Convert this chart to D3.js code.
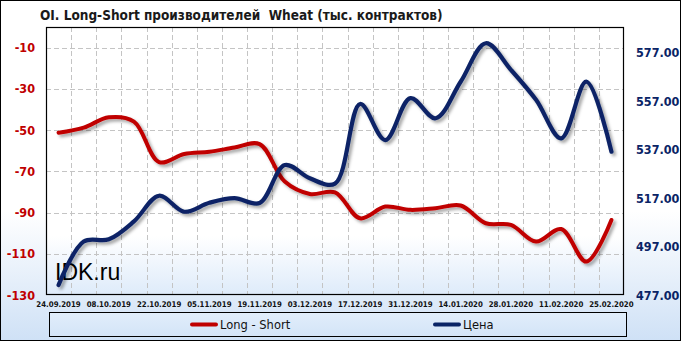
<!DOCTYPE html>
<html><head><meta charset="utf-8">
<script src="https://cdn.jsdelivr.net/npm/d3@7"></script>
<style>
html,body{margin:0;padding:0;background:#fff;}
svg{display:block;}
</style></head>
<body>
<script>
const dates = ["24.09.2019","01.10.2019","08.10.2019","15.10.2019","22.10.2019","29.10.2019","05.11.2019","12.11.2019","19.11.2019","26.11.2019","03.12.2019","10.12.2019","17.12.2019","24.12.2019","31.12.2019","07.01.2020","14.01.2020","21.01.2020","28.01.2020","04.02.2020","11.02.2020","18.02.2020","25.02.2020"];
const longShort = [-51.3,-48.8,-43.8,-45.9,-65.5,-61.6,-60.5,-58.5,-56.8,-75,-81,-80.2,-92.8,-87.1,-88.7,-87.9,-86.6,-95.2,-96,-104.1,-98,-113.8,-93.6];
const price = [481.1,499.1,500.0,507.4,518.0,511.4,515.1,517.0,515.0,530.7,525.2,523.0,555.9,541.0,558.3,550.0,565.1,581.0,570.0,557.6,541.7,565.1,536.2];
const leftTicks = [-130,-110,-90,-70,-50,-30,-10];
const rightTicks = [477,497,517,537,557,577];
const title = "OI. Long-Short производителей\u00a0 Wheat (тыс. контрактов)";
const seriesNames = ["Long - Short","Цена"];

const W = 681, H = 341;
const P = {l:46, r:624, t:27, b:295};
const font = "'DejaVu Sans Condensed','DejaVu Sans',sans-serif";

const svg = d3.select("body").append("svg").attr("width",W).attr("height",H);
const defs = svg.append("defs");
const bg = defs.append("linearGradient").attr("id","bg").attr("x1",0).attr("y1",0).attr("x2",0).attr("y2",1);
bg.append("stop").attr("offset","0%").attr("stop-color","#ffffff");
bg.append("stop").attr("offset","62%").attr("stop-color","#ffffff");
bg.append("stop").attr("offset","100%").attr("stop-color","#cfe1f6");
const pg = defs.append("linearGradient").attr("id","pg").attr("x1",0).attr("y1",0).attr("x2",0).attr("y2",1);
pg.append("stop").attr("offset","0%").attr("stop-color","#ffffff");
pg.append("stop").attr("offset","78%").attr("stop-color","#ffffff");
pg.append("stop").attr("offset","100%").attr("stop-color","#deebfa");
const lg = defs.append("linearGradient").attr("id","lg").attr("x1",0).attr("y1",0).attr("x2",0).attr("y2",1);
lg.append("stop").attr("offset","0%").attr("stop-color","#e2eefb");
lg.append("stop").attr("offset","100%").attr("stop-color","#d3e4f7");
const sh = defs.append("filter").attr("id","sh").attr("x","-10%").attr("y","-10%").attr("width","120%").attr("height","130%");
sh.append("feDropShadow").attr("dx",2.5).attr("dy",2.5).attr("stdDeviation",1.6).attr("flood-color","#000").attr("flood-opacity",0.35);

svg.append("rect").attr("x",0.5).attr("y",0.5).attr("width",W-1).attr("height",H-1).attr("fill","url(#bg)").attr("stroke","#000").attr("stroke-width",1);

const x = d3.scaleBand().domain(dates).range([P.l,P.r]).padding(0);
const cx = d => x(d) + x.bandwidth()/2;
const yL = d3.scaleLinear().domain([-130,0]).range([P.b,P.t]);
const yR = d3.scaleLinear().domain([477,587.7]).range([P.b,P.t]);

svg.append("rect").attr("x",P.l).attr("y",P.t).attr("width",P.r-P.l).attr("height",P.b-P.t).attr("fill","url(#pg)");

// grid
const grid = svg.append("g").attr("stroke","#c4c4c4").attr("stroke-width",1).attr("stroke-dasharray","5,3");
dates.slice(1).forEach(d => {
  const xx = Math.round(x(d))+0.5;
  grid.append("line").attr("x1",xx).attr("x2",xx).attr("y1",P.t).attr("y2",P.b);
});
leftTicks.filter(t=>t>-130).forEach(t => {
  const yy = Math.round(yL(t))+0.5;
  grid.append("line").attr("x1",P.l).attr("x2",P.r).attr("y1",yy).attr("y2",yy);
});

// watermark
svg.append("text").attr("x",55).attr("y",280).attr("font-family","'Liberation Sans',Arial,sans-serif").attr("font-size",23).attr("fill","#000").text("IDK.ru");

// lines
const lineL = d3.line().x((d,i)=>cx(dates[i])).y(d=>yL(d)).curve(d3.curveCatmullRom.alpha(0.5));
const lineR = d3.line().x((d,i)=>cx(dates[i])).y(d=>yR(d)).curve(d3.curveCatmullRom.alpha(0.5));
svg.append("path").attr("d",lineL(longShort)).attr("fill","none").attr("stroke","#c00000").attr("stroke-width",4).attr("stroke-linecap","round").attr("filter","url(#sh)");
svg.append("path").attr("d",lineR(price)).attr("fill","none").attr("stroke","#0a2466").attr("stroke-width",4.2).attr("stroke-linecap","round").attr("filter","url(#sh)");

// plot border
svg.append("rect").attr("x",P.l+0.5).attr("y",P.t+0.5).attr("width",P.r-P.l-1).attr("height",P.b-P.t-1).attr("fill","none").attr("stroke","#000").attr("stroke-width",1.2);

// left axis labels
svg.append("g").selectAll("text").data(leftTicks).join("text")
  .attr("x",35).attr("y",d=>yL(d)).attr("dy","0.36em").attr("text-anchor","end")
  .attr("font-family",font).attr("font-weight","bold").attr("font-size",12.5).attr("fill","#c00000").text(d=>d);
// right axis labels
svg.append("g").selectAll("text").data(rightTicks).join("text")
  .attr("x",636).attr("y",d=>yR(d)).attr("dy","0.36em").attr("text-anchor","start")
  .attr("font-family",font).attr("font-weight","bold").attr("font-size",12.5).attr("fill","#0a2466").text(d=>d.toFixed(2));
// x labels
svg.append("g").selectAll("text").data(dates.filter((d,i)=>i%2===0)).join("text")
  .attr("x",d=>cx(d)).attr("y",307).attr("text-anchor","middle")
  .attr("font-family",font).attr("font-weight","bold").attr("font-size",7.8).attr("fill","#111").text(d=>d);

// title
svg.append("text").attr("x",40).attr("y",20).attr("font-family",font).attr("font-weight","bold").attr("font-size",13.5).attr("fill","#1a1a1a").text(title);

// legend
svg.append("rect").attr("x",49.5).attr("y",312.5).attr("width",577).attr("height",24).attr("fill","url(#lg)").attr("stroke","#000").attr("stroke-width",1);
const legItems = [{name:seriesNames[0], color:"#c00000", x:190},{name:seriesNames[1], color:"#0a2466", x:433}];
legItems.forEach(it => {
  svg.append("line").attr("x1",it.x+2).attr("x2",it.x+26).attr("y1",324.5).attr("y2",324.5).attr("stroke",it.color).attr("stroke-width",4).attr("stroke-linecap","round");
  svg.append("text").attr("x",it.x+30).attr("y",324.5).attr("dy","0.36em").attr("font-family","'DejaVu Sans',sans-serif").attr("font-size",11.5).attr("fill","#111").text(it.name);
});
</script>
</body></html>
